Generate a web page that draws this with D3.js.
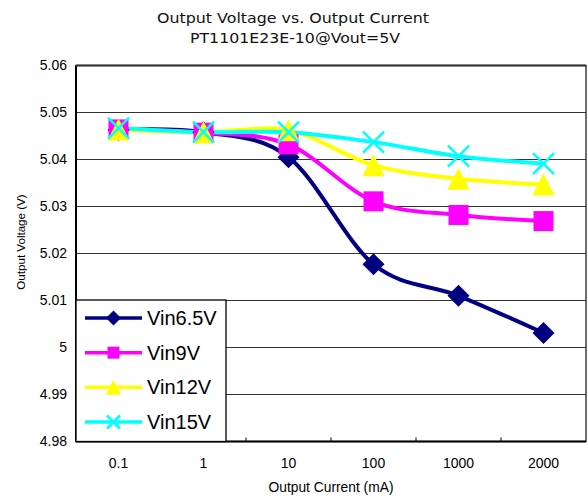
<!DOCTYPE html>
<html>
<head>
<meta charset="utf-8">
<script src="https://cdn.jsdelivr.net/npm/d3@7"></script>
<style>
  body { margin: 0; background: #fff; }
  svg { display: block; font-family: "Liberation Sans", Arial, sans-serif; }
</style>
</head>
<body>
<svg id="chart" width="588" height="497"></svg>
<script>
// chart data
var categories = ["0.1", "1", "10", "100", "1000", "2000"];
var yTicks = [4.98, 4.99, 5.00, 5.01, 5.02, 5.03, 5.04, 5.05, 5.06];
var yTickLabels = ["4.98", "4.99", "5", "5.01", "5.02", "5.03", "5.04", "5.05", "5.06"];

var vin65 = [5.0463, 5.0458, 5.0405, 5.0177, 5.0110, 5.0031];
var vin9  = [5.0464, 5.0457, 5.0432, 5.0311, 5.0282, 5.0269];
var vin12 = [5.0464, 5.0458, 5.0462, 5.0388, 5.0359, 5.0347];
var vin15 = [5.0467, 5.0458, 5.0458, 5.0437, 5.0407, 5.0391];

var seriesNames = ["Vin6.5V", "Vin9V", "Vin12V", "Vin15V"];
var seriesColors = ["#000080", "#ff00ff", "#ffff00", "#00ffff"];
var seriesMarkers = ["diamond", "square", "triangle", "cross"];

(function() {

var series = [vin65, vin9, vin12, vin15].map(function(v, i) {
  return { name: seriesNames[i], color: seriesColors[i], marker: seriesMarkers[i], values: v };
});

var svg = d3.select("#chart");
var left = 76, right = 586, plotTop = 65.5, bottom = 441.5;

var x = d3.scaleBand().domain(categories).range([left, right]);
var y = d3.scaleLinear().domain([4.98, 5.06]).range([bottom, plotTop]);

// marker shapes, centred on 0,0
function markerPath(type, s) {
  var h = s / 2;
  if (type === "diamond") return "M0," + (-h) + "L" + h + ",0L0," + h + "L" + (-h) + ",0Z";
  if (type === "square") return "M" + (-h) + "," + (-h) + "h" + s + "v" + s + "h" + (-s) + "Z";
  if (type === "triangle") return "M0," + (-h) + "L" + h + "," + h + "L" + (-h) + "," + h + "Z";
  return "M" + (-h) + "," + (-h) + "L" + h + "," + h + "M" + h + "," + (-h) + "L" + (-h) + "," + h;
}
var markerSize = { diamond: 22, square: 20, triangle: 22, cross: 21 };
var legendSize = { diamond: 15, square: 12, triangle: 15, cross: 13 };

function drawMarker(g, type, s, color) {
  var p = g.append("path").attr("d", markerPath(type, s));
  if (type === "cross") p.attr("fill", "none").attr("stroke", color).attr("stroke-width", 2.5);
  else p.attr("fill", color);
}

// titles
svg.append("text")
  .attr("x", 293).attr("y", 23)
  .attr("text-anchor", "middle")
  .attr("textLength", 272).attr("lengthAdjust", "spacingAndGlyphs")
  .style("font-family", "'DejaVu Sans', sans-serif")
  .style("font-size", "14px")
  .attr("fill", "#111")
  .text("Output Voltage vs. Output Current");

svg.append("text")
  .attr("x", 295).attr("y", 43)
  .attr("text-anchor", "middle")
  .attr("textLength", 210).attr("lengthAdjust", "spacingAndGlyphs")
  .style("font-family", "'DejaVu Sans', sans-serif")
  .style("font-size", "14px")
  .attr("fill", "#111")
  .text("PT1101E23E-10@Vout=5V");

// gridlines
svg.append("g").selectAll("line")
  .data(yTicks.slice(1, -1))
  .enter().append("line")
  .attr("x1", left).attr("x2", right)
  .attr("y1", function(d) { return y(d); })
  .attr("y2", function(d) { return y(d); })
  .attr("stroke", "#333")
  .attr("stroke-width", 1);

// y axis labels
var yAxis = d3.axisLeft(y)
  .tickValues(yTicks)
  .tickSize(0)
  .tickPadding(9)
  .tickFormat(function(d, i) { return yTickLabels[i]; });

svg.append("g")
  .attr("transform", "translate(" + left + ",0)")
  .call(yAxis)
  .call(function(g) { g.select(".domain").remove(); })
  .selectAll("text")
  .style("font-family", "'Liberation Sans', Arial, sans-serif")
  .style("font-size", "14px")
  .attr("fill", "#000");

// x axis labels
var xAxis = d3.axisBottom(x).tickSize(0).tickPadding(17);
svg.append("g")
  .attr("transform", "translate(0," + bottom + ")")
  .call(xAxis)
  .call(function(g) { g.select(".domain").remove(); })
  .selectAll("text")
  .style("font-family", "'Liberation Sans', Arial, sans-serif")
  .style("font-size", "14px")
  .attr("fill", "#000");

// small inner ticks at category boundaries
svg.append("g").selectAll("line")
  .data(categories.slice(1))
  .enter().append("line")
  .attr("x1", function(d) { return x(d); })
  .attr("x2", function(d) { return x(d); })
  .attr("y1", bottom).attr("y2", bottom - 4)
  .attr("stroke", "#000");

// plot frame
svg.append("rect")
  .attr("x", left).attr("y", plotTop)
  .attr("width", right - left).attr("height", bottom - plotTop)
  .attr("fill", "none").attr("stroke", "#222").attr("stroke-width", 1.3);
svg.append("line")
  .attr("x1", left).attr("x2", right).attr("y1", bottom).attr("y2", bottom)
  .attr("stroke", "#000").attr("stroke-width", 2);
svg.append("line")
  .attr("x1", left).attr("x2", left).attr("y1", plotTop).attr("y2", bottom)
  .attr("stroke", "#000").attr("stroke-width", 2);
svg.append("line")
  .attr("x1", left).attr("x2", right).attr("y1", plotTop).attr("y2", plotTop)
  .attr("stroke", "#333").attr("stroke-width", 2);

// axis titles
svg.append("text")
  .attr("transform", "translate(25,242) rotate(-90)")
  .attr("text-anchor", "middle")
  .style("font-size", "11.6px")
  .text("Output Voltage (V)");

svg.append("text")
  .attr("x", 331).attr("y", 492)
  .attr("text-anchor", "middle")
  .style("font-size", "13.8px")
  .text("Output Current (mA)");

// series lines and markers
var line = d3.line()
  .x(function(d, i) { return x(categories[i]) + x.bandwidth() / 2; })
  .y(function(d) { return y(d); })
  .curve(d3.curveCatmullRom.alpha(0));

series.forEach(function(s) {
  svg.append("path")
    .datum(s.values)
    .attr("d", line)
    .attr("fill", "none")
    .attr("stroke", s.color)
    .attr("stroke-width", 4)
    .attr("stroke-linejoin", "round");
});

series.forEach(function(s) {
  s.values.forEach(function(v, i) {
    var g = svg.append("g")
      .attr("transform", "translate(" + (x(categories[i]) + x.bandwidth() / 2) + "," + y(v) + ")");
    drawMarker(g, s.marker, markerSize[s.marker], s.color);
  });
});

// legend
var legend = svg.append("g");
legend.append("rect")
  .attr("x", left).attr("y", 300)
  .attr("width", 150).attr("height", bottom - 300)
  .attr("fill", "#fff").attr("stroke", "#000").attr("stroke-width", 1.3);

var legendY = d3.scalePoint().domain(seriesNames).range([318, 422]);

series.forEach(function(s) {
  var ly = legendY(s.name);
  legend.append("line")
    .attr("x1", 85).attr("x2", 142)
    .attr("y1", ly).attr("y2", ly)
    .attr("stroke", s.color).attr("stroke-width", 3.5);
  var g = legend.append("g").attr("transform", "translate(113.5," + ly + ")");
  drawMarker(g, s.marker, legendSize[s.marker], s.color);
  legend.append("text")
    .attr("x", 147).attr("y", ly + 7)
    .style("font-size", "20px")
    .text(s.name);
});

})();
</script>
</body>
</html>
